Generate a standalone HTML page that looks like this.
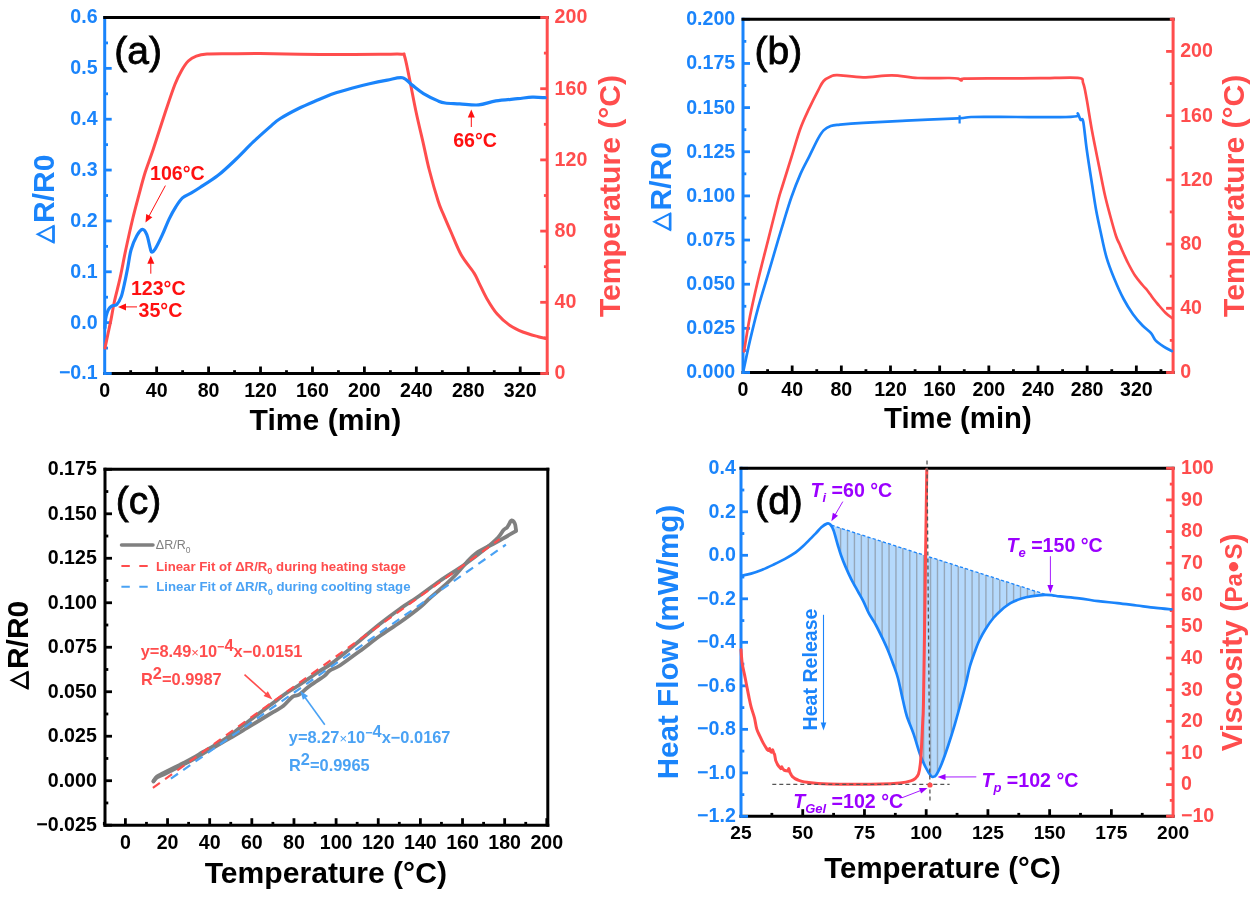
<!DOCTYPE html>
<html><head><meta charset="utf-8"><style>
html,body{margin:0;padding:0;background:#fff;}
svg{display:block;will-change:transform;}
text{font-family:"Liberation Sans", sans-serif;}
</style></head><body>
<svg width="1252" height="897" viewBox="0 0 1252 897">
<rect width="1252" height="897" fill="#fff"/>
<line x1="103.2" y1="373.5" x2="548.7" y2="373.5" stroke="#000" stroke-width="3" />
<line x1="156.64" y1="373.5" x2="156.64" y2="366.5" stroke="#000" stroke-width="2.8" />
<line x1="208.58" y1="373.5" x2="208.58" y2="366.5" stroke="#000" stroke-width="2.8" />
<line x1="260.52" y1="373.5" x2="260.52" y2="366.5" stroke="#000" stroke-width="2.8" />
<line x1="312.46" y1="373.5" x2="312.46" y2="366.5" stroke="#000" stroke-width="2.8" />
<line x1="364.4" y1="373.5" x2="364.4" y2="366.5" stroke="#000" stroke-width="2.8" />
<line x1="416.34" y1="373.5" x2="416.34" y2="366.5" stroke="#000" stroke-width="2.8" />
<line x1="468.28" y1="373.5" x2="468.28" y2="366.5" stroke="#000" stroke-width="2.8" />
<line x1="520.22" y1="373.5" x2="520.22" y2="366.5" stroke="#000" stroke-width="2.8" />
<line x1="130.67" y1="373.5" x2="130.67" y2="370.2" stroke="#000" stroke-width="2.8" />
<line x1="182.61" y1="373.5" x2="182.61" y2="370.2" stroke="#000" stroke-width="2.8" />
<line x1="234.55" y1="373.5" x2="234.55" y2="370.2" stroke="#000" stroke-width="2.8" />
<line x1="286.49" y1="373.5" x2="286.49" y2="370.2" stroke="#000" stroke-width="2.8" />
<line x1="338.43" y1="373.5" x2="338.43" y2="370.2" stroke="#000" stroke-width="2.8" />
<line x1="390.37" y1="373.5" x2="390.37" y2="370.2" stroke="#000" stroke-width="2.8" />
<line x1="442.31" y1="373.5" x2="442.31" y2="370.2" stroke="#000" stroke-width="2.8" />
<line x1="494.25" y1="373.5" x2="494.25" y2="370.2" stroke="#000" stroke-width="2.8" />
<line x1="104.7" y1="16" x2="104.7" y2="375" stroke="#1a84fb" stroke-width="3" />
<line x1="104.7" y1="373.5" x2="111.7" y2="373.5" stroke="#1a84fb" stroke-width="2.8" />
<line x1="104.7" y1="322.64" x2="111.7" y2="322.64" stroke="#1a84fb" stroke-width="2.8" />
<line x1="104.7" y1="271.79" x2="111.7" y2="271.79" stroke="#1a84fb" stroke-width="2.8" />
<line x1="104.7" y1="220.93" x2="111.7" y2="220.93" stroke="#1a84fb" stroke-width="2.8" />
<line x1="104.7" y1="170.07" x2="111.7" y2="170.07" stroke="#1a84fb" stroke-width="2.8" />
<line x1="104.7" y1="119.21" x2="111.7" y2="119.21" stroke="#1a84fb" stroke-width="2.8" />
<line x1="104.7" y1="68.36" x2="111.7" y2="68.36" stroke="#1a84fb" stroke-width="2.8" />
<line x1="104.7" y1="17.5" x2="111.7" y2="17.5" stroke="#1a84fb" stroke-width="2.8" />
<line x1="104.7" y1="348.07" x2="108" y2="348.07" stroke="#1a84fb" stroke-width="2.8" />
<line x1="104.7" y1="297.21" x2="108" y2="297.21" stroke="#1a84fb" stroke-width="2.8" />
<line x1="104.7" y1="246.36" x2="108" y2="246.36" stroke="#1a84fb" stroke-width="2.8" />
<line x1="104.7" y1="195.5" x2="108" y2="195.5" stroke="#1a84fb" stroke-width="2.8" />
<line x1="104.7" y1="144.64" x2="108" y2="144.64" stroke="#1a84fb" stroke-width="2.8" />
<line x1="104.7" y1="93.79" x2="108" y2="93.79" stroke="#1a84fb" stroke-width="2.8" />
<line x1="104.7" y1="42.93" x2="108" y2="42.93" stroke="#1a84fb" stroke-width="2.8" />
<line x1="103.2" y1="17.5" x2="548.7" y2="17.5" stroke="#000" stroke-width="3" />
<line x1="547.2" y1="16" x2="547.2" y2="375" stroke="#ff4d4d" stroke-width="3" />
<line x1="547.2" y1="373.5" x2="540.2" y2="373.5" stroke="#ff4d4d" stroke-width="2.8" />
<line x1="547.2" y1="302.3" x2="540.2" y2="302.3" stroke="#ff4d4d" stroke-width="2.8" />
<line x1="547.2" y1="231.1" x2="540.2" y2="231.1" stroke="#ff4d4d" stroke-width="2.8" />
<line x1="547.2" y1="159.9" x2="540.2" y2="159.9" stroke="#ff4d4d" stroke-width="2.8" />
<line x1="547.2" y1="88.7" x2="540.2" y2="88.7" stroke="#ff4d4d" stroke-width="2.8" />
<line x1="547.2" y1="17.5" x2="540.2" y2="17.5" stroke="#ff4d4d" stroke-width="2.8" />
<line x1="547.2" y1="337.9" x2="543.9" y2="337.9" stroke="#ff4d4d" stroke-width="2.8" />
<line x1="547.2" y1="266.7" x2="543.9" y2="266.7" stroke="#ff4d4d" stroke-width="2.8" />
<line x1="547.2" y1="195.5" x2="543.9" y2="195.5" stroke="#ff4d4d" stroke-width="2.8" />
<line x1="547.2" y1="124.3" x2="543.9" y2="124.3" stroke="#ff4d4d" stroke-width="2.8" />
<line x1="547.2" y1="53.1" x2="543.9" y2="53.1" stroke="#ff4d4d" stroke-width="2.8" />
<text x="104.7" y="397.2" font-size="19.6" fill="#000" text-anchor="middle" font-weight="bold" font-style="normal" >0</text>
<text x="156.64" y="397.2" font-size="19.6" fill="#000" text-anchor="middle" font-weight="bold" font-style="normal" >40</text>
<text x="208.58" y="397.2" font-size="19.6" fill="#000" text-anchor="middle" font-weight="bold" font-style="normal" >80</text>
<text x="260.52" y="397.2" font-size="19.6" fill="#000" text-anchor="middle" font-weight="bold" font-style="normal" >120</text>
<text x="312.46" y="397.2" font-size="19.6" fill="#000" text-anchor="middle" font-weight="bold" font-style="normal" >160</text>
<text x="364.4" y="397.2" font-size="19.6" fill="#000" text-anchor="middle" font-weight="bold" font-style="normal" >200</text>
<text x="416.34" y="397.2" font-size="19.6" fill="#000" text-anchor="middle" font-weight="bold" font-style="normal" >240</text>
<text x="468.28" y="397.2" font-size="19.6" fill="#000" text-anchor="middle" font-weight="bold" font-style="normal" >280</text>
<text x="520.22" y="397.2" font-size="19.6" fill="#000" text-anchor="middle" font-weight="bold" font-style="normal" >320</text>
<text x="97.6" y="379.4" font-size="19.6" fill="#1a84fb" text-anchor="end" font-weight="bold" font-style="normal" >−0.1</text>
<text x="97.6" y="328.54" font-size="19.6" fill="#1a84fb" text-anchor="end" font-weight="bold" font-style="normal" >0.0</text>
<text x="97.6" y="277.69" font-size="19.6" fill="#1a84fb" text-anchor="end" font-weight="bold" font-style="normal" >0.1</text>
<text x="97.6" y="226.83" font-size="19.6" fill="#1a84fb" text-anchor="end" font-weight="bold" font-style="normal" >0.2</text>
<text x="97.6" y="175.97" font-size="19.6" fill="#1a84fb" text-anchor="end" font-weight="bold" font-style="normal" >0.3</text>
<text x="97.6" y="125.11" font-size="19.6" fill="#1a84fb" text-anchor="end" font-weight="bold" font-style="normal" >0.4</text>
<text x="97.6" y="74.26" font-size="19.6" fill="#1a84fb" text-anchor="end" font-weight="bold" font-style="normal" >0.5</text>
<text x="97.6" y="23.4" font-size="19.6" fill="#1a84fb" text-anchor="end" font-weight="bold" font-style="normal" >0.6</text>
<text x="554.6" y="379.4" font-size="19.6" fill="#ff4d4d" text-anchor="start" font-weight="bold" font-style="normal" >0</text>
<text x="554.6" y="308.2" font-size="19.6" fill="#ff4d4d" text-anchor="start" font-weight="bold" font-style="normal" >40</text>
<text x="554.6" y="237" font-size="19.6" fill="#ff4d4d" text-anchor="start" font-weight="bold" font-style="normal" >80</text>
<text x="554.6" y="165.8" font-size="19.6" fill="#ff4d4d" text-anchor="start" font-weight="bold" font-style="normal" >120</text>
<text x="554.6" y="94.6" font-size="19.6" fill="#ff4d4d" text-anchor="start" font-weight="bold" font-style="normal" >160</text>
<text x="554.6" y="23.4" font-size="19.6" fill="#ff4d4d" text-anchor="start" font-weight="bold" font-style="normal" >200</text>
<text x="325.4" y="430.2" font-size="30.1" fill="#000" text-anchor="middle" font-weight="bold" font-style="normal" >Time (min)</text>
<path d="M53.5,242.2 L53.5,226.1 L37.8,234.15 Z" fill="none" stroke="#1a84fb" stroke-width="2.1" stroke-linejoin="miter"/>
<path d="M53.5,242.7 L53.5,225.6" stroke="#1a84fb" stroke-width="2.6"/>
<text x="54.4" y="223" font-size="30" fill="#1a84fb" font-weight="bold" transform="rotate(-90 54.4 223)">R/R0</text>
<text x="619.7" y="196" font-size="30.1" fill="#ff4d4d" text-anchor="middle" font-weight="bold" font-style="normal" transform="rotate(-90 619.7 196)" >Temperature (°C)</text>
<text x="114.3" y="63.8" font-size="39" fill="#000" text-anchor="start" font-weight="normal" font-style="normal" stroke="#000" stroke-width="0.8">(a)</text>
<path d="M105,348.1 C105.47,345.87 106.78,339.53 107.8,334.7 C108.82,329.87 109.98,324.72 111.1,319.1 C112.22,313.48 113,307.87 114.5,301 C116,294.13 118.25,286.32 120.1,277.9 C121.95,269.48 123.47,260.48 125.6,250.5 C127.73,240.52 130.67,227.32 132.9,218 C135.13,208.68 136.95,202.22 139,194.6 C141.05,186.98 142.87,179.73 145.2,172.3 C147.53,164.87 149.6,160.17 153,150 C156.4,139.83 161.95,122.22 165.6,111.3 C169.25,100.38 172.23,91.3 174.9,84.5 C177.57,77.7 179.37,74.42 181.6,70.5 C183.83,66.58 185.85,63.4 188.3,61 C190.75,58.6 193.18,57.25 196.3,56.1 C199.42,54.95 201.38,54.48 207,54.1 C212.62,53.72 221.17,53.88 230,53.8 C238.83,53.72 248.33,53.52 260,53.6 C271.67,53.68 286.67,54.17 300,54.3 C313.33,54.43 326.67,54.4 340,54.4 C353.33,54.4 369.75,54.33 380,54.3 C390.25,54.27 397.42,53.92 401.5,54.2 C405.58,54.48 403.25,52.33 404.5,56 C405.75,59.67 407.05,66.78 409,76.2 C410.95,85.62 413.78,101.15 416.2,112.5 C418.62,123.85 421.32,134.72 423.5,144.3 C425.68,153.88 426.85,160.5 429.3,170 C431.75,179.5 435.87,193.95 438.2,201.3 C440.53,208.65 441.17,208.98 443.3,214.1 C445.43,219.22 448,225.17 451,232 C454,238.83 457.45,248.25 461.3,255.1 C465.15,261.95 471.12,268.4 474.1,273.1 C477.08,277.8 477.07,279.03 479.2,283.3 C481.33,287.57 483.9,293.57 486.9,298.7 C489.9,303.83 493.35,309.62 497.2,314.1 C501.05,318.58 505.73,322.62 510,325.6 C514.27,328.58 518.1,330.15 522.8,332 C527.5,333.85 534.33,335.62 538.2,336.7 C542.07,337.78 544.7,338.2 546,338.5" fill="none" stroke="#ff4d4d" stroke-width="3" stroke-linejoin="round" stroke-linecap="round" />
<path d="M105,328 C105.1,326.52 105.23,321.7 105.6,319.1 C105.97,316.5 106.55,314.25 107.2,312.4 C107.85,310.55 108.65,309.12 109.5,308 C110.35,306.88 111.1,306.27 112.3,305.7 C113.5,305.13 115.22,306.08 116.7,304.6 C118.18,303.12 119.9,300.33 121.2,296.8 C122.5,293.27 123.38,288.42 124.5,283.4 C125.62,278.38 126.82,272.27 127.9,266.7 C128.98,261.13 129.52,255.15 131,250 C132.48,244.85 134.9,239.23 136.8,235.8 C138.7,232.37 140.73,229.58 142.4,229.4 C144.07,229.22 145.5,231.58 146.8,234.7 C148.1,237.82 149.37,245.18 150.2,248.1 C151.03,251.02 150.88,252.2 151.8,252.2 C152.72,252.2 153.93,251.02 155.7,248.1 C157.47,245.18 160.17,239.53 162.4,234.7 C164.63,229.87 166.87,223.73 169.1,219.1 C171.33,214.47 173.57,210.43 175.8,206.9 C178.03,203.37 179.9,200.23 182.5,197.9 C185.1,195.57 188.48,194.63 191.4,192.9 C194.32,191.17 195.6,190.38 200,187.5 C204.4,184.62 211.85,180.27 217.8,175.6 C223.75,170.93 229.75,165.15 235.7,159.5 C241.65,153.85 247.55,147.35 253.5,141.7 C259.45,136.05 266.93,129.47 271.4,125.6 C275.87,121.73 275.85,121.32 280.3,118.5 C284.75,115.68 292.15,111.67 298.1,108.7 C304.05,105.73 310.05,103.23 316,100.7 C321.95,98.17 327.85,95.58 333.8,93.5 C339.75,91.42 345.75,89.83 351.7,88.2 C357.65,86.57 363.57,85.05 369.5,83.7 C375.43,82.35 381.8,81.1 387.3,80.1 C392.8,79.1 398.4,76.9 402.5,77.7 C406.6,78.5 408.4,82.25 411.9,84.9 C415.4,87.55 419.15,90.93 423.5,93.6 C427.85,96.27 434.38,99.33 438,100.9 C441.62,102.47 441.58,102.52 445.2,103 C448.82,103.48 454.13,103.48 459.7,103.8 C465.27,104.12 472.57,105.38 478.6,104.9 C484.63,104.42 489.38,101.93 495.9,100.9 C502.42,99.87 511.65,99.32 517.7,98.7 C523.75,98.08 527.62,97.37 532.2,97.2 C536.78,97.03 543.03,97.62 545.2,97.7" fill="none" stroke="#1a84fb" stroke-width="3.2" stroke-linejoin="round" stroke-linecap="round" />
<text x="150" y="179.9" font-size="19.6" fill="#ff1010" text-anchor="start" font-weight="bold" font-style="normal" >106°C</text>
<line x1="165.4" y1="185.6" x2="148.82" y2="216.44" stroke="#ff1010" stroke-width="1" />
<path d="M145.5,222.6 L146.21,213.9 L152.37,217.21 Z" fill="#ff1010"/>
<text x="130.9" y="294.6" font-size="19.6" fill="#ff1010" text-anchor="start" font-weight="bold" font-style="normal" >123°C</text>
<line x1="150.8" y1="273.7" x2="150.8" y2="262.7" stroke="#ff1010" stroke-width="1" />
<path d="M150.8,255.7 L154.3,263.7 L147.3,263.7 Z" fill="#ff1010"/>
<text x="138.5" y="317.3" font-size="19.6" fill="#ff1010" text-anchor="start" font-weight="bold" font-style="normal" >35°C</text>
<line x1="137" y1="306.9" x2="125" y2="306.9" stroke="#ff1010" stroke-width="1" />
<path d="M118,306.9 L126,303.4 L126,310.4 Z" fill="#ff1010"/>
<text x="453.2" y="146.5" font-size="19.6" fill="#ff1010" text-anchor="start" font-weight="bold" font-style="normal" >66°C</text>
<line x1="471.3" y1="127" x2="471.3" y2="116.6" stroke="#ff1010" stroke-width="1" />
<path d="M471.3,109.6 L474.8,117.6 L467.8,117.6 Z" fill="#ff1010"/>
<line x1="741.5" y1="372.5" x2="1174.6" y2="372.5" stroke="#000" stroke-width="3" />
<line x1="792.17" y1="372.5" x2="792.17" y2="365.5" stroke="#000" stroke-width="2.8" />
<line x1="841.34" y1="372.5" x2="841.34" y2="365.5" stroke="#000" stroke-width="2.8" />
<line x1="890.5" y1="372.5" x2="890.5" y2="365.5" stroke="#000" stroke-width="2.8" />
<line x1="939.67" y1="372.5" x2="939.67" y2="365.5" stroke="#000" stroke-width="2.8" />
<line x1="988.84" y1="372.5" x2="988.84" y2="365.5" stroke="#000" stroke-width="2.8" />
<line x1="1038.01" y1="372.5" x2="1038.01" y2="365.5" stroke="#000" stroke-width="2.8" />
<line x1="1087.18" y1="372.5" x2="1087.18" y2="365.5" stroke="#000" stroke-width="2.8" />
<line x1="1136.34" y1="372.5" x2="1136.34" y2="365.5" stroke="#000" stroke-width="2.8" />
<line x1="767.58" y1="372.5" x2="767.58" y2="369.2" stroke="#000" stroke-width="2.8" />
<line x1="816.75" y1="372.5" x2="816.75" y2="369.2" stroke="#000" stroke-width="2.8" />
<line x1="865.92" y1="372.5" x2="865.92" y2="369.2" stroke="#000" stroke-width="2.8" />
<line x1="915.09" y1="372.5" x2="915.09" y2="369.2" stroke="#000" stroke-width="2.8" />
<line x1="964.26" y1="372.5" x2="964.26" y2="369.2" stroke="#000" stroke-width="2.8" />
<line x1="1013.42" y1="372.5" x2="1013.42" y2="369.2" stroke="#000" stroke-width="2.8" />
<line x1="1062.59" y1="372.5" x2="1062.59" y2="369.2" stroke="#000" stroke-width="2.8" />
<line x1="1111.76" y1="372.5" x2="1111.76" y2="369.2" stroke="#000" stroke-width="2.8" />
<line x1="1160.93" y1="372.5" x2="1160.93" y2="369.2" stroke="#000" stroke-width="2.8" />
<line x1="743" y1="17.8" x2="743" y2="374" stroke="#1a84fb" stroke-width="3" />
<line x1="743" y1="372.5" x2="750" y2="372.5" stroke="#1a84fb" stroke-width="2.8" />
<line x1="743" y1="328.35" x2="750" y2="328.35" stroke="#1a84fb" stroke-width="2.8" />
<line x1="743" y1="284.2" x2="750" y2="284.2" stroke="#1a84fb" stroke-width="2.8" />
<line x1="743" y1="240.05" x2="750" y2="240.05" stroke="#1a84fb" stroke-width="2.8" />
<line x1="743" y1="195.9" x2="750" y2="195.9" stroke="#1a84fb" stroke-width="2.8" />
<line x1="743" y1="151.75" x2="750" y2="151.75" stroke="#1a84fb" stroke-width="2.8" />
<line x1="743" y1="107.6" x2="750" y2="107.6" stroke="#1a84fb" stroke-width="2.8" />
<line x1="743" y1="63.45" x2="750" y2="63.45" stroke="#1a84fb" stroke-width="2.8" />
<line x1="743" y1="19.3" x2="750" y2="19.3" stroke="#1a84fb" stroke-width="2.8" />
<line x1="743" y1="350.43" x2="746.3" y2="350.43" stroke="#1a84fb" stroke-width="2.8" />
<line x1="743" y1="306.27" x2="746.3" y2="306.27" stroke="#1a84fb" stroke-width="2.8" />
<line x1="743" y1="262.12" x2="746.3" y2="262.12" stroke="#1a84fb" stroke-width="2.8" />
<line x1="743" y1="217.98" x2="746.3" y2="217.98" stroke="#1a84fb" stroke-width="2.8" />
<line x1="743" y1="173.83" x2="746.3" y2="173.83" stroke="#1a84fb" stroke-width="2.8" />
<line x1="743" y1="129.68" x2="746.3" y2="129.68" stroke="#1a84fb" stroke-width="2.8" />
<line x1="743" y1="85.53" x2="746.3" y2="85.53" stroke="#1a84fb" stroke-width="2.8" />
<line x1="743" y1="41.38" x2="746.3" y2="41.38" stroke="#1a84fb" stroke-width="2.8" />
<line x1="741.5" y1="19.3" x2="1174.6" y2="19.3" stroke="#000" stroke-width="3" />
<line x1="1173.1" y1="17.8" x2="1173.1" y2="374" stroke="#ff4d4d" stroke-width="3" />
<line x1="1173.1" y1="372.5" x2="1166.1" y2="372.5" stroke="#ff4d4d" stroke-width="2.8" />
<line x1="1173.1" y1="308.28" x2="1166.1" y2="308.28" stroke="#ff4d4d" stroke-width="2.8" />
<line x1="1173.1" y1="244.06" x2="1166.1" y2="244.06" stroke="#ff4d4d" stroke-width="2.8" />
<line x1="1173.1" y1="179.85" x2="1166.1" y2="179.85" stroke="#ff4d4d" stroke-width="2.8" />
<line x1="1173.1" y1="115.63" x2="1166.1" y2="115.63" stroke="#ff4d4d" stroke-width="2.8" />
<line x1="1173.1" y1="51.41" x2="1166.1" y2="51.41" stroke="#ff4d4d" stroke-width="2.8" />
<line x1="1173.1" y1="340.39" x2="1169.8" y2="340.39" stroke="#ff4d4d" stroke-width="2.8" />
<line x1="1173.1" y1="276.17" x2="1169.8" y2="276.17" stroke="#ff4d4d" stroke-width="2.8" />
<line x1="1173.1" y1="211.95" x2="1169.8" y2="211.95" stroke="#ff4d4d" stroke-width="2.8" />
<line x1="1173.1" y1="147.74" x2="1169.8" y2="147.74" stroke="#ff4d4d" stroke-width="2.8" />
<line x1="1173.1" y1="83.52" x2="1169.8" y2="83.52" stroke="#ff4d4d" stroke-width="2.8" />
<line x1="1173.1" y1="19.3" x2="1169.8" y2="19.3" stroke="#ff4d4d" stroke-width="2.8" />
<text x="743" y="396.2" font-size="19.6" fill="#000" text-anchor="middle" font-weight="bold" font-style="normal" >0</text>
<text x="792.17" y="396.2" font-size="19.6" fill="#000" text-anchor="middle" font-weight="bold" font-style="normal" >40</text>
<text x="841.34" y="396.2" font-size="19.6" fill="#000" text-anchor="middle" font-weight="bold" font-style="normal" >80</text>
<text x="890.5" y="396.2" font-size="19.6" fill="#000" text-anchor="middle" font-weight="bold" font-style="normal" >120</text>
<text x="939.67" y="396.2" font-size="19.6" fill="#000" text-anchor="middle" font-weight="bold" font-style="normal" >160</text>
<text x="988.84" y="396.2" font-size="19.6" fill="#000" text-anchor="middle" font-weight="bold" font-style="normal" >200</text>
<text x="1038.01" y="396.2" font-size="19.6" fill="#000" text-anchor="middle" font-weight="bold" font-style="normal" >240</text>
<text x="1087.18" y="396.2" font-size="19.6" fill="#000" text-anchor="middle" font-weight="bold" font-style="normal" >280</text>
<text x="1136.34" y="396.2" font-size="19.6" fill="#000" text-anchor="middle" font-weight="bold" font-style="normal" >320</text>
<text x="735.2" y="378.4" font-size="19.6" fill="#1a84fb" text-anchor="end" font-weight="bold" font-style="normal" >0.000</text>
<text x="735.2" y="334.25" font-size="19.6" fill="#1a84fb" text-anchor="end" font-weight="bold" font-style="normal" >0.025</text>
<text x="735.2" y="290.1" font-size="19.6" fill="#1a84fb" text-anchor="end" font-weight="bold" font-style="normal" >0.050</text>
<text x="735.2" y="245.95" font-size="19.6" fill="#1a84fb" text-anchor="end" font-weight="bold" font-style="normal" >0.075</text>
<text x="735.2" y="201.8" font-size="19.6" fill="#1a84fb" text-anchor="end" font-weight="bold" font-style="normal" >0.100</text>
<text x="735.2" y="157.65" font-size="19.6" fill="#1a84fb" text-anchor="end" font-weight="bold" font-style="normal" >0.125</text>
<text x="735.2" y="113.5" font-size="19.6" fill="#1a84fb" text-anchor="end" font-weight="bold" font-style="normal" >0.150</text>
<text x="735.2" y="69.35" font-size="19.6" fill="#1a84fb" text-anchor="end" font-weight="bold" font-style="normal" >0.175</text>
<text x="735.2" y="25.2" font-size="19.6" fill="#1a84fb" text-anchor="end" font-weight="bold" font-style="normal" >0.200</text>
<text x="1180.2" y="378.4" font-size="19.6" fill="#ff4d4d" text-anchor="start" font-weight="bold" font-style="normal" >0</text>
<text x="1180.2" y="314.18" font-size="19.6" fill="#ff4d4d" text-anchor="start" font-weight="bold" font-style="normal" >40</text>
<text x="1180.2" y="249.96" font-size="19.6" fill="#ff4d4d" text-anchor="start" font-weight="bold" font-style="normal" >80</text>
<text x="1180.2" y="185.75" font-size="19.6" fill="#ff4d4d" text-anchor="start" font-weight="bold" font-style="normal" >120</text>
<text x="1180.2" y="121.53" font-size="19.6" fill="#ff4d4d" text-anchor="start" font-weight="bold" font-style="normal" >160</text>
<text x="1180.2" y="57.31" font-size="19.6" fill="#ff4d4d" text-anchor="start" font-weight="bold" font-style="normal" >200</text>
<text x="957.9" y="428" font-size="29.3" fill="#000" text-anchor="middle" font-weight="bold" font-style="normal" >Time (min)</text>
<path d="M670.1,229.7 L670.1,213.6 L654.4,221.65 Z" fill="none" stroke="#1a84fb" stroke-width="2.1" stroke-linejoin="miter"/>
<path d="M670.1,230.2 L670.1,213.1" stroke="#1a84fb" stroke-width="2.6"/>
<text x="671" y="210.5" font-size="30" fill="#1a84fb" font-weight="bold" transform="rotate(-90 671 210.5)">R/R0</text>
<text x="1244.2" y="195.8" font-size="30.1" fill="#ff4d4d" text-anchor="middle" font-weight="bold" font-style="normal" transform="rotate(-90 1244.2 195.8)" >Temperature (°C)</text>
<text x="754.6" y="63.5" font-size="39" fill="#000" text-anchor="start" font-weight="normal" font-style="normal" stroke="#000" stroke-width="0.8">(b)</text>
<path d="M744,351.4 C745,345.55 747.67,328.17 750,316.3 C752.33,304.43 754.98,292.9 758,280.2 C761.02,267.5 764.75,253.38 768.1,240.1 C771.45,226.82 775.68,209.6 778.1,200.5 C780.52,191.4 780.37,192.75 782.6,185.5 C784.83,178.25 788.53,166.5 791.5,157 C794.47,147.5 797.43,136.65 800.4,128.5 C803.37,120.35 806.33,114.47 809.3,108.1 C812.27,101.73 815.82,94.82 818.2,90.3 C820.58,85.78 821.52,83.3 823.6,81 C825.68,78.7 828.42,77.48 830.7,76.5 C832.98,75.52 831.9,74.97 837.3,75.1 C842.7,75.23 854,77.27 863.1,77.3 C872.2,77.33 882.78,75.18 891.9,75.3 C901.02,75.42 908.22,77.55 917.8,78 C927.38,78.45 942.7,77.9 949.4,78 C956.1,78.1 955.97,78.18 958,78.6 C960.03,79.02 960.6,80.48 961.6,80.5 C962.6,80.52 957.6,79.05 964,78.7 C970.4,78.35 987.33,78.48 1000,78.4 C1012.67,78.32 1027.03,78.3 1040,78.2 C1052.97,78.1 1070.6,76.97 1077.8,77.8 C1085,78.63 1081.72,79.63 1083.2,83.2 C1084.68,86.77 1085.22,91.18 1086.7,99.2 C1088.18,107.22 1090.02,120 1092.1,131.3 C1094.18,142.6 1097.12,156.6 1099.2,167 C1101.28,177.4 1102.8,185.7 1104.6,193.7 C1106.4,201.7 1108.1,207.95 1110,215 C1111.9,222.05 1114.42,231.17 1116,236 C1117.58,240.83 1118.5,241.67 1119.5,244 C1120.5,246.33 1120.58,246.83 1122,250 C1123.42,253.17 1125.83,258.75 1128,263 C1130.17,267.25 1132.58,271.83 1135,275.5 C1137.42,279.17 1140.5,282.58 1142.5,285 C1144.5,287.42 1145.75,288.5 1147,290 C1148.25,291.5 1148.83,292.42 1150,294 C1151.17,295.58 1152.72,297.83 1154,299.5 C1155.28,301.17 1155.83,301.83 1157.7,304 C1159.57,306.17 1162.83,310.17 1165.2,312.5 C1167.57,314.83 1170.78,317.08 1171.9,318" fill="none" stroke="#ff4d4d" stroke-width="2.7" stroke-linejoin="round" stroke-linecap="round" />
<path d="M743.5,370.4 C744.58,365.4 747.58,350.75 750,340.4 C752.42,330.05 754.98,319.33 758,308.3 C761.02,297.27 764.75,285.57 768.1,274.2 C771.45,262.83 775.47,248.97 778.1,240.1 C780.73,231.23 781.7,228.1 783.9,221 C786.1,213.9 788.55,205.32 791.3,197.5 C794.05,189.68 797.4,180.97 800.4,174.1 C803.4,167.23 806.33,162.25 809.3,156.3 C812.27,150.35 815.82,142.72 818.2,138.4 C820.58,134.08 821.52,132.47 823.6,130.4 C825.68,128.33 827.97,126.97 830.7,126 C833.43,125.03 834.6,125.13 840,124.6 C845.4,124.07 852.05,123.47 863.1,122.8 C874.15,122.13 890.48,121.33 906.3,120.6 C922.12,119.87 947.22,119 958,118.4 C968.78,117.8 964,117.25 971,117 C978,116.75 985.17,116.88 1000,116.9 C1014.83,116.92 1047.18,117.22 1060,117.1 C1072.82,116.98 1073.93,116.8 1076.9,116.2 C1079.87,115.6 1077.2,112.92 1077.8,113.5 C1078.4,114.08 1079.6,118.37 1080.5,119.7 C1081.4,121.03 1082.17,116.58 1083.2,121.5 C1084.23,126.42 1085.22,138.65 1086.7,149.2 C1088.18,159.75 1090.53,174.67 1092.1,184.8 C1093.67,194.93 1094.65,202.02 1096.1,210 C1097.55,217.98 1099.07,224.82 1100.8,232.7 C1102.53,240.58 1104.28,249.72 1106.5,257.3 C1108.72,264.88 1111.25,271.25 1114.1,278.2 C1116.95,285.15 1120.45,293 1123.6,299 C1126.75,305 1129.85,309.78 1133,314.2 C1136.15,318.62 1139.5,322.35 1142.5,325.5 C1145.5,328.65 1148.78,330.57 1151,333.1 C1153.22,335.63 1153.75,338.48 1155.8,340.7 C1157.85,342.92 1160.62,344.67 1163.3,346.4 C1165.98,348.13 1170.47,350.32 1171.9,351.1" fill="none" stroke="#1a84fb" stroke-width="2.7" stroke-linejoin="round" stroke-linecap="round" />
<line x1="959.6" y1="115.3" x2="959.6" y2="123.5" stroke="#1a84fb" stroke-width="2.2" />
<line x1="103.5" y1="825.2" x2="549.3" y2="825.2" stroke="#000" stroke-width="3" />
<line x1="125.4" y1="825.2" x2="125.4" y2="818.2" stroke="#000" stroke-width="2.8" />
<line x1="167.54" y1="825.2" x2="167.54" y2="818.2" stroke="#000" stroke-width="2.8" />
<line x1="209.68" y1="825.2" x2="209.68" y2="818.2" stroke="#000" stroke-width="2.8" />
<line x1="251.82" y1="825.2" x2="251.82" y2="818.2" stroke="#000" stroke-width="2.8" />
<line x1="293.96" y1="825.2" x2="293.96" y2="818.2" stroke="#000" stroke-width="2.8" />
<line x1="336.1" y1="825.2" x2="336.1" y2="818.2" stroke="#000" stroke-width="2.8" />
<line x1="378.24" y1="825.2" x2="378.24" y2="818.2" stroke="#000" stroke-width="2.8" />
<line x1="420.38" y1="825.2" x2="420.38" y2="818.2" stroke="#000" stroke-width="2.8" />
<line x1="462.52" y1="825.2" x2="462.52" y2="818.2" stroke="#000" stroke-width="2.8" />
<line x1="504.66" y1="825.2" x2="504.66" y2="818.2" stroke="#000" stroke-width="2.8" />
<line x1="546.8" y1="825.2" x2="546.8" y2="818.2" stroke="#000" stroke-width="2.8" />
<line x1="104.33" y1="825.2" x2="104.33" y2="821.9" stroke="#000" stroke-width="2.8" />
<line x1="146.47" y1="825.2" x2="146.47" y2="821.9" stroke="#000" stroke-width="2.8" />
<line x1="188.61" y1="825.2" x2="188.61" y2="821.9" stroke="#000" stroke-width="2.8" />
<line x1="230.75" y1="825.2" x2="230.75" y2="821.9" stroke="#000" stroke-width="2.8" />
<line x1="272.89" y1="825.2" x2="272.89" y2="821.9" stroke="#000" stroke-width="2.8" />
<line x1="315.03" y1="825.2" x2="315.03" y2="821.9" stroke="#000" stroke-width="2.8" />
<line x1="357.17" y1="825.2" x2="357.17" y2="821.9" stroke="#000" stroke-width="2.8" />
<line x1="399.31" y1="825.2" x2="399.31" y2="821.9" stroke="#000" stroke-width="2.8" />
<line x1="441.45" y1="825.2" x2="441.45" y2="821.9" stroke="#000" stroke-width="2.8" />
<line x1="483.59" y1="825.2" x2="483.59" y2="821.9" stroke="#000" stroke-width="2.8" />
<line x1="525.73" y1="825.2" x2="525.73" y2="821.9" stroke="#000" stroke-width="2.8" />
<line x1="105" y1="467.8" x2="105" y2="826.7" stroke="#000" stroke-width="3" />
<line x1="105" y1="825.2" x2="112" y2="825.2" stroke="#000" stroke-width="2.8" />
<line x1="105" y1="780.71" x2="112" y2="780.71" stroke="#000" stroke-width="2.8" />
<line x1="105" y1="736.23" x2="112" y2="736.23" stroke="#000" stroke-width="2.8" />
<line x1="105" y1="691.74" x2="112" y2="691.74" stroke="#000" stroke-width="2.8" />
<line x1="105" y1="647.25" x2="112" y2="647.25" stroke="#000" stroke-width="2.8" />
<line x1="105" y1="602.76" x2="112" y2="602.76" stroke="#000" stroke-width="2.8" />
<line x1="105" y1="558.27" x2="112" y2="558.27" stroke="#000" stroke-width="2.8" />
<line x1="105" y1="513.79" x2="112" y2="513.79" stroke="#000" stroke-width="2.8" />
<line x1="105" y1="469.3" x2="112" y2="469.3" stroke="#000" stroke-width="2.8" />
<line x1="105" y1="802.96" x2="108.3" y2="802.96" stroke="#000" stroke-width="2.8" />
<line x1="105" y1="758.47" x2="108.3" y2="758.47" stroke="#000" stroke-width="2.8" />
<line x1="105" y1="713.98" x2="108.3" y2="713.98" stroke="#000" stroke-width="2.8" />
<line x1="105" y1="669.49" x2="108.3" y2="669.49" stroke="#000" stroke-width="2.8" />
<line x1="105" y1="625.01" x2="108.3" y2="625.01" stroke="#000" stroke-width="2.8" />
<line x1="105" y1="580.52" x2="108.3" y2="580.52" stroke="#000" stroke-width="2.8" />
<line x1="105" y1="536.03" x2="108.3" y2="536.03" stroke="#000" stroke-width="2.8" />
<line x1="105" y1="491.54" x2="108.3" y2="491.54" stroke="#000" stroke-width="2.8" />
<line x1="103.5" y1="469.3" x2="549.3" y2="469.3" stroke="#000" stroke-width="3" />
<line x1="547.8" y1="467.8" x2="547.8" y2="826.7" stroke="#000" stroke-width="3" />
<text x="125.4" y="849.2" font-size="19.6" fill="#000" text-anchor="middle" font-weight="bold" font-style="normal" >0</text>
<text x="167.54" y="849.2" font-size="19.6" fill="#000" text-anchor="middle" font-weight="bold" font-style="normal" >20</text>
<text x="209.68" y="849.2" font-size="19.6" fill="#000" text-anchor="middle" font-weight="bold" font-style="normal" >40</text>
<text x="251.82" y="849.2" font-size="19.6" fill="#000" text-anchor="middle" font-weight="bold" font-style="normal" >60</text>
<text x="293.96" y="849.2" font-size="19.6" fill="#000" text-anchor="middle" font-weight="bold" font-style="normal" >80</text>
<text x="336.1" y="849.2" font-size="19.6" fill="#000" text-anchor="middle" font-weight="bold" font-style="normal" >100</text>
<text x="378.24" y="849.2" font-size="19.6" fill="#000" text-anchor="middle" font-weight="bold" font-style="normal" >120</text>
<text x="420.38" y="849.2" font-size="19.6" fill="#000" text-anchor="middle" font-weight="bold" font-style="normal" >140</text>
<text x="462.52" y="849.2" font-size="19.6" fill="#000" text-anchor="middle" font-weight="bold" font-style="normal" >160</text>
<text x="504.66" y="849.2" font-size="19.6" fill="#000" text-anchor="middle" font-weight="bold" font-style="normal" >180</text>
<text x="546.8" y="849.2" font-size="19.6" fill="#000" text-anchor="middle" font-weight="bold" font-style="normal" >200</text>
<text x="96.8" y="831.1" font-size="19.6" fill="#000" text-anchor="end" font-weight="bold" font-style="normal" >−0.025</text>
<text x="96.8" y="786.61" font-size="19.6" fill="#000" text-anchor="end" font-weight="bold" font-style="normal" >0.000</text>
<text x="96.8" y="742.12" font-size="19.6" fill="#000" text-anchor="end" font-weight="bold" font-style="normal" >0.025</text>
<text x="96.8" y="697.64" font-size="19.6" fill="#000" text-anchor="end" font-weight="bold" font-style="normal" >0.050</text>
<text x="96.8" y="653.15" font-size="19.6" fill="#000" text-anchor="end" font-weight="bold" font-style="normal" >0.075</text>
<text x="96.8" y="608.66" font-size="19.6" fill="#000" text-anchor="end" font-weight="bold" font-style="normal" >0.100</text>
<text x="96.8" y="564.17" font-size="19.6" fill="#000" text-anchor="end" font-weight="bold" font-style="normal" >0.125</text>
<text x="96.8" y="519.69" font-size="19.6" fill="#000" text-anchor="end" font-weight="bold" font-style="normal" >0.150</text>
<text x="96.8" y="475.2" font-size="19.6" fill="#000" text-anchor="end" font-weight="bold" font-style="normal" >0.175</text>
<text x="325.8" y="883" font-size="30.1" fill="#000" text-anchor="middle" font-weight="bold" font-style="normal" >Temperature (°C)</text>
<path d="M27.5,688.3 L27.5,672.2 L11.8,680.25 Z" fill="none" stroke="#000" stroke-width="2.1" stroke-linejoin="miter"/>
<path d="M27.5,688.8 L27.5,671.7" stroke="#000" stroke-width="2.6"/>
<text x="28.4" y="669.1" font-size="30" fill="#000" font-weight="bold" transform="rotate(-90 28.4 669.1)">R/R0</text>
<text x="115.8" y="513.8" font-size="39" fill="#000" text-anchor="start" font-weight="normal" font-style="normal" stroke="#000" stroke-width="0.8">(c)</text>
<line x1="121.5" y1="545" x2="153" y2="545" stroke="#808080" stroke-width="3.5" stroke-linecap="round"/>
<text x="155.8" y="549.2" font-size="12.5" fill="#808080" font-weight="normal">ΔR/R<tspan font-size="8.5" dy="3.6">0</tspan></text>
<line x1="121.4" y1="566" x2="148.3" y2="566" stroke="#ff4d4d" stroke-width="2" stroke-dasharray="8.4,9.5"/>
<text x="156" y="570.7" font-size="13.2" fill="#ff4d4d" font-weight="bold">Linear Fit of ΔR/R<tspan font-size="9.2" dy="3.6">0</tspan><tspan dy="-3.6"> during heating stage</tspan></text>
<line x1="121.4" y1="586.8" x2="148.3" y2="586.8" stroke="#4aa2f4" stroke-width="2" stroke-dasharray="8.4,9.5"/>
<text x="156.3" y="591.3" font-size="13.2" fill="#4aa2f4" font-weight="bold">Linear Fit of ΔR/R<tspan font-size="9.2" dy="3.6">0</tspan><tspan dy="-3.6"> during coolting stage</tspan></text>
<path d="M153.5,781 C154.08,780.25 155.42,777.78 157,776.5 C158.58,775.22 160.33,774.67 163,773.3 C165.67,771.93 169.67,769.97 173,768.3 C176.33,766.63 179.67,765.02 183,763.3 C186.33,761.58 189.67,759.88 193,758 C196.33,756.12 199.67,753.95 203,752 C206.33,750.05 209.67,748.25 213,746.3 C216.33,744.35 220.17,742.1 223,740.3 C225.83,738.5 226.98,737.75 230,735.5 C233.02,733.25 237.38,729.63 241.1,726.8 C244.82,723.97 248.58,721.27 252.3,718.5 C256.02,715.73 259.68,712.97 263.4,710.2 C267.12,707.43 270.88,704.68 274.6,701.9 C278.32,699.12 281.98,696.07 285.7,693.5 C289.42,690.93 293.18,688.92 296.9,686.5 C300.62,684.08 304.28,681.53 308,679 C311.72,676.47 315.53,673.7 319.2,671.3 C322.87,668.9 325.7,667.68 330,664.6 C334.3,661.52 340.02,656.82 345,652.8 C349.98,648.78 354.1,645.3 359.9,640.5 C365.7,635.7 373.15,629.25 379.8,624 C386.45,618.75 393.13,613.75 399.8,609 C406.47,604.25 413.15,600.17 419.8,595.5 C426.45,590.83 432.23,586.17 439.7,581 C447.17,575.83 456.73,570.08 464.6,564.5 C472.47,558.92 481.32,552 486.9,547.5 C492.48,543 495.32,540.42 498.1,537.5 C500.88,534.58 502.12,531.67 503.6,530 C505.08,528.33 506.07,528.5 507,527.5 C507.93,526.5 508.47,525.17 509.2,524 C509.93,522.83 510.47,520.58 511.4,520.5 C512.33,520.42 514.03,521.92 514.8,523.5 C515.57,525.08 515.8,528.92 516,530" fill="none" stroke="#808080" stroke-width="3.8" stroke-linejoin="round" stroke-linecap="round" />
<path d="M516,531 C513.02,532.72 504.8,537.55 498.1,541.3 C491.4,545.05 481.38,549.6 475.8,553.5 C470.22,557.4 468.32,560.78 464.6,564.7 C460.88,568.62 457.22,573.2 453.5,577 C449.78,580.8 446.22,584 442.3,587.5 C438.38,591 433.75,594.67 430,598 C426.25,601.33 424.83,603.42 419.8,607.5 C414.77,611.58 406.47,617.75 399.8,622.5 C393.13,627.25 386.45,631.25 379.8,636 C373.15,640.75 366.55,646.08 359.9,651 C353.25,655.92 344.88,662.27 339.9,665.5 C334.92,668.73 332.52,668.72 330,670.4 C327.48,672.08 326.97,673.83 324.8,675.6 C322.63,677.37 319.8,679.07 317,681 C314.2,682.93 310.98,684.93 308,687.2 C305.02,689.47 301.7,692.98 299.1,694.6 C296.5,696.22 295,695.03 292.4,696.9 C289.8,698.77 286.47,703.4 283.5,705.8 C280.53,708.2 277.95,709.27 274.6,711.3 C271.25,713.33 268.05,715.2 263.4,718 C258.75,720.8 252.27,724.75 246.7,728.1 C241.13,731.45 235.62,734.82 230,738.1 C224.38,741.38 217.5,745.23 213,747.8 C208.5,750.37 206.33,751.55 203,753.5 C199.67,755.45 196.33,757.62 193,759.5 C189.67,761.38 186.33,763.08 183,764.8 C179.67,766.52 176.33,768.13 173,769.8 C169.67,771.47 165.67,773.52 163,774.8 C160.33,776.08 158.58,776.38 157,777.5 C155.42,778.62 154.08,780.83 153.5,781.5" fill="none" stroke="#808080" stroke-width="3.8" stroke-linejoin="round" stroke-linecap="round" />
<line x1="152.9" y1="787.86" x2="499.7" y2="539.2" stroke="#ff4d4d" stroke-width="2.2" stroke-dasharray="8.6,6.4"/>
<line x1="170.9" y1="778.65" x2="505.9" y2="544.67" stroke="#4aa2f4" stroke-width="2.2" stroke-dasharray="8.6,6.4"/>
<text x="140.7" y="657" font-size="16.4" fill="#ff4d4d" font-weight="bold">y=8.49<tspan font-size="13" font-weight="normal">×</tspan>10<tspan dy="-6.4" font-size="12.5">−</tspan><tspan>4</tspan><tspan dy="6.4">x−0.0151</tspan></text>
<text x="141" y="684.9" font-size="16.4" fill="#ff4d4d" font-weight="bold">R<tspan dy="-6.2">2</tspan><tspan dy="6.2">=0.9987</tspan></text>
<text x="288.8" y="743.1" font-size="16.4" fill="#4aa2f4" font-weight="bold">y=8.27<tspan font-size="13" font-weight="normal">×</tspan>10<tspan dy="-6.4" font-size="12.5">−</tspan><tspan>4</tspan><tspan dy="6.4">x−0.0167</tspan></text>
<text x="289" y="771.2" font-size="16.4" fill="#4aa2f4" font-weight="bold">R<tspan dy="-6.2">2</tspan><tspan dy="6.2">=0.9965</tspan></text>
<line x1="244.5" y1="674.6" x2="266.44" y2="694.26" stroke="#ff4d4d" stroke-width="1.6" />
<path d="M272.4,699.6 L263.56,695.98 L267.83,691.21 Z" fill="#ff4d4d"/>
<line x1="324.8" y1="724.7" x2="304.89" y2="697.18" stroke="#4aa2f4" stroke-width="1.6" />
<path d="M300.2,690.7 L308.07,696.12 L302.88,699.87 Z" fill="#4aa2f4"/>
<clipPath id="dclip"><path d="M831.5,525.2 L833.6,530.5 L837.8,545 L841.1,555.5 L845.6,566.9 L851.2,579.1 L857.9,591.4 L863.4,601.4 L868.9,613.4 L875.6,624.5 L882.3,637.9 L887.9,650.2 L893.4,664.7 L897.9,678 L902.9,700 L906.8,716 L913.4,733.4 L920.1,754.5 L925.5,767 L930.8,775.8 L933,776.8 L936.2,774.9 L941.5,764.2 L948.2,745.5 L954.9,724.1 L961.6,700 L966,683 L970,666 L974.6,652.4 L979.3,640.5 L985.6,629 L993.4,618 L1001.2,610.2 L1010.5,603.2 L1021.5,598.5 L1032.4,596.2 L1044.9,594.9 L1046,594.6 Z"/></clipPath>
<path d="M831.5,525.2 L833.6,530.5 L837.8,545 L841.1,555.5 L845.6,566.9 L851.2,579.1 L857.9,591.4 L863.4,601.4 L868.9,613.4 L875.6,624.5 L882.3,637.9 L887.9,650.2 L893.4,664.7 L897.9,678 L902.9,700 L906.8,716 L913.4,733.4 L920.1,754.5 L925.5,767 L930.8,775.8 L933,776.8 L936.2,774.9 L941.5,764.2 L948.2,745.5 L954.9,724.1 L961.6,700 L966,683 L970,666 L974.6,652.4 L979.3,640.5 L985.6,629 L993.4,618 L1001.2,610.2 L1010.5,603.2 L1021.5,598.5 L1032.4,596.2 L1044.9,594.9 L1046,594.6 Z" fill="#b5d9fc" stroke="none"/>
<path d="M840.6,520 L840.6,790 M847.52,520 L847.52,790 M854.44,520 L854.44,790 M861.36,520 L861.36,790 M868.28,520 L868.28,790 M875.2,520 L875.2,790 M882.12,520 L882.12,790 M889.04,520 L889.04,790 M895.96,520 L895.96,790 M902.88,520 L902.88,790 M909.8,520 L909.8,790 M916.72,520 L916.72,790 M923.64,520 L923.64,790 M930.56,520 L930.56,790 M937.48,520 L937.48,790 M944.4,520 L944.4,790 M951.32,520 L951.32,790 M958.24,520 L958.24,790 M965.16,520 L965.16,790 M972.08,520 L972.08,790 M979,520 L979,790 M985.92,520 L985.92,790 M992.84,520 L992.84,790 M999.76,520 L999.76,790 M1006.68,520 L1006.68,790 M1013.6,520 L1013.6,790 M1020.52,520 L1020.52,790 M1027.44,520 L1027.44,790 M1034.36,520 L1034.36,790 M1041.28,520 L1041.28,790" stroke="#95a7ba" stroke-width="1.4" fill="none" clip-path="url(#dclip)"/>
<line x1="831.5" y1="525.2" x2="1046" y2="594.6" stroke="#1a84fb" stroke-width="1.3" stroke-dasharray="3.2,2.2"/>
<line x1="739.5" y1="816.2" x2="1174.6" y2="816.2" stroke="#000" stroke-width="3" />
<line x1="802.73" y1="816.2" x2="802.73" y2="809.2" stroke="#000" stroke-width="2.8" />
<line x1="864.46" y1="816.2" x2="864.46" y2="809.2" stroke="#000" stroke-width="2.8" />
<line x1="926.19" y1="816.2" x2="926.19" y2="809.2" stroke="#000" stroke-width="2.8" />
<line x1="987.91" y1="816.2" x2="987.91" y2="809.2" stroke="#000" stroke-width="2.8" />
<line x1="1049.64" y1="816.2" x2="1049.64" y2="809.2" stroke="#000" stroke-width="2.8" />
<line x1="1111.37" y1="816.2" x2="1111.37" y2="809.2" stroke="#000" stroke-width="2.8" />
<line x1="771.86" y1="816.2" x2="771.86" y2="812.9" stroke="#000" stroke-width="2.8" />
<line x1="833.59" y1="816.2" x2="833.59" y2="812.9" stroke="#000" stroke-width="2.8" />
<line x1="895.32" y1="816.2" x2="895.32" y2="812.9" stroke="#000" stroke-width="2.8" />
<line x1="957.05" y1="816.2" x2="957.05" y2="812.9" stroke="#000" stroke-width="2.8" />
<line x1="1018.78" y1="816.2" x2="1018.78" y2="812.9" stroke="#000" stroke-width="2.8" />
<line x1="1080.51" y1="816.2" x2="1080.51" y2="812.9" stroke="#000" stroke-width="2.8" />
<line x1="1142.24" y1="816.2" x2="1142.24" y2="812.9" stroke="#000" stroke-width="2.8" />
<line x1="741" y1="466.8" x2="741" y2="817.7" stroke="#1a84fb" stroke-width="3" />
<line x1="741" y1="816.37" x2="748" y2="816.37" stroke="#1a84fb" stroke-width="2.8" />
<line x1="741" y1="772.86" x2="748" y2="772.86" stroke="#1a84fb" stroke-width="2.8" />
<line x1="741" y1="729.35" x2="748" y2="729.35" stroke="#1a84fb" stroke-width="2.8" />
<line x1="741" y1="685.84" x2="748" y2="685.84" stroke="#1a84fb" stroke-width="2.8" />
<line x1="741" y1="642.32" x2="748" y2="642.32" stroke="#1a84fb" stroke-width="2.8" />
<line x1="741" y1="598.81" x2="748" y2="598.81" stroke="#1a84fb" stroke-width="2.8" />
<line x1="741" y1="555.3" x2="748" y2="555.3" stroke="#1a84fb" stroke-width="2.8" />
<line x1="741" y1="511.79" x2="748" y2="511.79" stroke="#1a84fb" stroke-width="2.8" />
<line x1="741" y1="468.28" x2="748" y2="468.28" stroke="#1a84fb" stroke-width="2.8" />
<line x1="741" y1="794.62" x2="744.3" y2="794.62" stroke="#1a84fb" stroke-width="2.8" />
<line x1="741" y1="751.1" x2="744.3" y2="751.1" stroke="#1a84fb" stroke-width="2.8" />
<line x1="741" y1="707.59" x2="744.3" y2="707.59" stroke="#1a84fb" stroke-width="2.8" />
<line x1="741" y1="664.08" x2="744.3" y2="664.08" stroke="#1a84fb" stroke-width="2.8" />
<line x1="741" y1="620.57" x2="744.3" y2="620.57" stroke="#1a84fb" stroke-width="2.8" />
<line x1="741" y1="577.06" x2="744.3" y2="577.06" stroke="#1a84fb" stroke-width="2.8" />
<line x1="741" y1="533.54" x2="744.3" y2="533.54" stroke="#1a84fb" stroke-width="2.8" />
<line x1="741" y1="490.03" x2="744.3" y2="490.03" stroke="#1a84fb" stroke-width="2.8" />
<line x1="739.5" y1="468.3" x2="1174.6" y2="468.3" stroke="#000" stroke-width="3" />
<line x1="1173.1" y1="466.8" x2="1173.1" y2="817.7" stroke="#ff4d4d" stroke-width="3" />
<line x1="1173.1" y1="816.2" x2="1166.1" y2="816.2" stroke="#ff4d4d" stroke-width="2.8" />
<line x1="1173.1" y1="784.57" x2="1166.1" y2="784.57" stroke="#ff4d4d" stroke-width="2.8" />
<line x1="1173.1" y1="752.95" x2="1166.1" y2="752.95" stroke="#ff4d4d" stroke-width="2.8" />
<line x1="1173.1" y1="721.32" x2="1166.1" y2="721.32" stroke="#ff4d4d" stroke-width="2.8" />
<line x1="1173.1" y1="689.69" x2="1166.1" y2="689.69" stroke="#ff4d4d" stroke-width="2.8" />
<line x1="1173.1" y1="658.06" x2="1166.1" y2="658.06" stroke="#ff4d4d" stroke-width="2.8" />
<line x1="1173.1" y1="626.44" x2="1166.1" y2="626.44" stroke="#ff4d4d" stroke-width="2.8" />
<line x1="1173.1" y1="594.81" x2="1166.1" y2="594.81" stroke="#ff4d4d" stroke-width="2.8" />
<line x1="1173.1" y1="563.18" x2="1166.1" y2="563.18" stroke="#ff4d4d" stroke-width="2.8" />
<line x1="1173.1" y1="531.55" x2="1166.1" y2="531.55" stroke="#ff4d4d" stroke-width="2.8" />
<line x1="1173.1" y1="499.93" x2="1166.1" y2="499.93" stroke="#ff4d4d" stroke-width="2.8" />
<line x1="1173.1" y1="468.3" x2="1166.1" y2="468.3" stroke="#ff4d4d" stroke-width="2.8" />
<line x1="1173.1" y1="800.39" x2="1169.8" y2="800.39" stroke="#ff4d4d" stroke-width="2.8" />
<line x1="1173.1" y1="768.76" x2="1169.8" y2="768.76" stroke="#ff4d4d" stroke-width="2.8" />
<line x1="1173.1" y1="737.13" x2="1169.8" y2="737.13" stroke="#ff4d4d" stroke-width="2.8" />
<line x1="1173.1" y1="705.5" x2="1169.8" y2="705.5" stroke="#ff4d4d" stroke-width="2.8" />
<line x1="1173.1" y1="673.88" x2="1169.8" y2="673.88" stroke="#ff4d4d" stroke-width="2.8" />
<line x1="1173.1" y1="642.25" x2="1169.8" y2="642.25" stroke="#ff4d4d" stroke-width="2.8" />
<line x1="1173.1" y1="610.62" x2="1169.8" y2="610.62" stroke="#ff4d4d" stroke-width="2.8" />
<line x1="1173.1" y1="579" x2="1169.8" y2="579" stroke="#ff4d4d" stroke-width="2.8" />
<line x1="1173.1" y1="547.37" x2="1169.8" y2="547.37" stroke="#ff4d4d" stroke-width="2.8" />
<line x1="1173.1" y1="515.74" x2="1169.8" y2="515.74" stroke="#ff4d4d" stroke-width="2.8" />
<line x1="1173.1" y1="484.11" x2="1169.8" y2="484.11" stroke="#ff4d4d" stroke-width="2.8" />
<text x="741" y="839.2" font-size="19.2" fill="#000" text-anchor="middle" font-weight="bold" font-style="normal" >25</text>
<text x="802.73" y="839.2" font-size="19.2" fill="#000" text-anchor="middle" font-weight="bold" font-style="normal" >50</text>
<text x="864.46" y="839.2" font-size="19.2" fill="#000" text-anchor="middle" font-weight="bold" font-style="normal" >75</text>
<text x="926.19" y="839.2" font-size="19.2" fill="#000" text-anchor="middle" font-weight="bold" font-style="normal" >100</text>
<text x="987.91" y="839.2" font-size="19.2" fill="#000" text-anchor="middle" font-weight="bold" font-style="normal" >125</text>
<text x="1049.64" y="839.2" font-size="19.2" fill="#000" text-anchor="middle" font-weight="bold" font-style="normal" >150</text>
<text x="1111.37" y="839.2" font-size="19.2" fill="#000" text-anchor="middle" font-weight="bold" font-style="normal" >175</text>
<text x="1173.1" y="839.2" font-size="19.2" fill="#000" text-anchor="middle" font-weight="bold" font-style="normal" >200</text>
<text x="735.8" y="822.27" font-size="19.6" fill="#1a84fb" text-anchor="end" font-weight="bold" font-style="normal" >−1.2</text>
<text x="735.8" y="778.76" font-size="19.6" fill="#1a84fb" text-anchor="end" font-weight="bold" font-style="normal" >−1.0</text>
<text x="735.8" y="735.25" font-size="19.6" fill="#1a84fb" text-anchor="end" font-weight="bold" font-style="normal" >−0.8</text>
<text x="735.8" y="691.74" font-size="19.6" fill="#1a84fb" text-anchor="end" font-weight="bold" font-style="normal" >−0.6</text>
<text x="735.8" y="648.22" font-size="19.6" fill="#1a84fb" text-anchor="end" font-weight="bold" font-style="normal" >−0.4</text>
<text x="735.8" y="604.71" font-size="19.6" fill="#1a84fb" text-anchor="end" font-weight="bold" font-style="normal" >−0.2</text>
<text x="735.8" y="561.2" font-size="19.6" fill="#1a84fb" text-anchor="end" font-weight="bold" font-style="normal" >0.0</text>
<text x="735.8" y="517.69" font-size="19.6" fill="#1a84fb" text-anchor="end" font-weight="bold" font-style="normal" >0.2</text>
<text x="735.8" y="474.18" font-size="19.6" fill="#1a84fb" text-anchor="end" font-weight="bold" font-style="normal" >0.4</text>
<text x="1181" y="822.1" font-size="19.6" fill="#ff4d4d" text-anchor="start" font-weight="bold" font-style="normal" >−10</text>
<text x="1181" y="790.47" font-size="19.6" fill="#ff4d4d" text-anchor="start" font-weight="bold" font-style="normal" >0</text>
<text x="1181" y="758.85" font-size="19.6" fill="#ff4d4d" text-anchor="start" font-weight="bold" font-style="normal" >10</text>
<text x="1181" y="727.22" font-size="19.6" fill="#ff4d4d" text-anchor="start" font-weight="bold" font-style="normal" >20</text>
<text x="1181" y="695.59" font-size="19.6" fill="#ff4d4d" text-anchor="start" font-weight="bold" font-style="normal" >30</text>
<text x="1181" y="663.96" font-size="19.6" fill="#ff4d4d" text-anchor="start" font-weight="bold" font-style="normal" >40</text>
<text x="1181" y="632.34" font-size="19.6" fill="#ff4d4d" text-anchor="start" font-weight="bold" font-style="normal" >50</text>
<text x="1181" y="600.71" font-size="19.6" fill="#ff4d4d" text-anchor="start" font-weight="bold" font-style="normal" >60</text>
<text x="1181" y="569.08" font-size="19.6" fill="#ff4d4d" text-anchor="start" font-weight="bold" font-style="normal" >70</text>
<text x="1181" y="537.45" font-size="19.6" fill="#ff4d4d" text-anchor="start" font-weight="bold" font-style="normal" >80</text>
<text x="1181" y="505.83" font-size="19.6" fill="#ff4d4d" text-anchor="start" font-weight="bold" font-style="normal" >90</text>
<text x="1181" y="474.2" font-size="19.6" fill="#ff4d4d" text-anchor="start" font-weight="bold" font-style="normal" >100</text>
<text x="942.6" y="877.8" font-size="29.4" fill="#000" text-anchor="middle" font-weight="bold" font-style="normal" >Temperature (°C)</text>
<text x="678" y="642" font-size="29.6" fill="#1a84fb" text-anchor="middle" font-weight="bold" font-style="normal" transform="rotate(-90 678 642)" >Heat Flow (mW/mg)</text>
<text x="1241.8" y="751.35" font-size="30" fill="#ff4d4d" text-anchor="start" font-weight="bold" font-style="normal" transform="rotate(-90 1241.8 751.35)" >Viscosity (</text>
<text x="1241.8" y="602.6" font-size="24" fill="#ff4d4d" text-anchor="start" font-weight="bold" font-style="normal" transform="rotate(-90 1241.8 602.6)" >Pa</text>
<circle cx="1233.6" cy="566.7" r="4.7" fill="#ff4d4d"/>
<text x="1241.8" y="559.4" font-size="24" fill="#ff4d4d" text-anchor="start" font-weight="bold" font-style="normal" transform="rotate(-90 1241.8 559.4)" >S</text>
<text x="1241.8" y="543.4" font-size="30" fill="#ff4d4d" text-anchor="start" font-weight="bold" font-style="normal" transform="rotate(-90 1241.8 543.4)" >)</text>
<text x="755.2" y="513.6" font-size="39" fill="#000" text-anchor="start" font-weight="normal" font-style="normal" stroke="#000" stroke-width="0.8">(d)</text>
<path d="M741.5,575.8 C743.1,575.43 747.63,574.62 751.1,573.6 C754.57,572.58 758.58,571.18 762.3,569.7 C766.02,568.22 769.68,566.47 773.4,564.7 C777.12,562.93 780.88,561.15 784.6,559.1 C788.32,557.05 792.73,554.45 795.7,552.4 C798.67,550.35 800.17,548.85 802.4,546.8 C804.63,544.75 806.87,542.33 809.1,540.1 C811.33,537.87 813.75,535.53 815.8,533.4 C817.85,531.27 819.53,528.93 821.4,527.3 C823.27,525.67 825.52,524.07 827,523.6 C828.48,523.13 829.2,523.35 830.3,524.5 C831.4,525.65 832.35,527.08 833.6,530.5 C834.85,533.92 836.55,540.83 837.8,545 C839.05,549.17 839.8,551.85 841.1,555.5 C842.4,559.15 843.92,562.97 845.6,566.9 C847.28,570.83 849.15,575.02 851.2,579.1 C853.25,583.18 855.87,587.68 857.9,591.4 C859.93,595.12 861.57,597.73 863.4,601.4 C865.23,605.07 866.87,609.55 868.9,613.4 C870.93,617.25 873.37,620.42 875.6,624.5 C877.83,628.58 880.25,633.62 882.3,637.9 C884.35,642.18 886.05,645.73 887.9,650.2 C889.75,654.67 891.73,660.07 893.4,664.7 C895.07,669.33 896.32,672.12 897.9,678 C899.48,683.88 901.42,693.67 902.9,700 C904.38,706.33 905.05,710.43 906.8,716 C908.55,721.57 911.18,726.98 913.4,733.4 C915.62,739.82 918.08,748.9 920.1,754.5 C922.12,760.1 923.72,763.45 925.5,767 C927.28,770.55 929.55,774.17 930.8,775.8 C932.05,777.43 932.1,776.95 933,776.8 C933.9,776.65 934.78,777 936.2,774.9 C937.62,772.8 939.5,769.1 941.5,764.2 C943.5,759.3 945.97,752.18 948.2,745.5 C950.43,738.82 952.67,731.68 954.9,724.1 C957.13,716.52 959.75,706.85 961.6,700 C963.45,693.15 964.6,688.67 966,683 C967.4,677.33 968.57,671.1 970,666 C971.43,660.9 973.05,656.65 974.6,652.4 C976.15,648.15 977.47,644.4 979.3,640.5 C981.13,636.6 983.25,632.75 985.6,629 C987.95,625.25 990.8,621.13 993.4,618 C996,614.87 998.35,612.67 1001.2,610.2 C1004.05,607.73 1007.12,605.15 1010.5,603.2 C1013.88,601.25 1017.85,599.67 1021.5,598.5 C1025.15,597.33 1028.5,596.8 1032.4,596.2 C1036.3,595.6 1041.52,595.05 1044.9,594.9 C1048.28,594.75 1050.18,595.05 1052.7,595.3 C1055.22,595.55 1055.58,595.9 1060,596.4 C1064.42,596.9 1072.8,597.5 1079.2,598.3 C1085.6,599.1 1092.02,600.4 1098.4,601.2 C1104.78,602 1111.12,602.38 1117.5,603.1 C1123.88,603.82 1130.3,604.7 1136.7,605.5 C1143.1,606.3 1150.1,607.25 1155.9,607.9 C1161.7,608.55 1168.9,609.15 1171.5,609.4" fill="none" stroke="#1a84fb" stroke-width="2.7" stroke-linejoin="round" stroke-linecap="round" />
<path d="M741,649.7 C741.2,651.98 741.62,659.25 742.2,663.4 C742.78,667.55 743.75,670.88 744.5,674.6 C745.25,678.32 745.97,681.98 746.7,685.7 C747.43,689.42 748.17,693.37 748.9,696.9 C749.63,700.43 750.17,703.38 751.1,706.9 C752.03,710.42 753.57,714.33 754.5,718 C755.43,721.67 755.77,725.78 756.7,728.9 C757.63,732.02 758.98,734.28 760.1,736.7 C761.22,739.12 762.22,741.25 763.4,743.4 C764.58,745.55 766.57,748.57 767.2,749.6 L768.4,750.5 L769.6,748.6 L770.6,751.6 L771.5,752.1 L772.6,749.8 L773.6,752.6 L774.6,754.5 L775.7,760.5 L777.5,764.5 L779.2,766.8 L780.8,768.6 L781.8,766.8 L782.8,768.8 L784.2,770.2 L786.2,770.8 L787.8,770.9 L788.8,768.6 L789.8,772.2 L791.2,774.8 L792.6,776.8 C793,777.1 794.1,778.07 795,778.6 C795.9,779.13 796.83,779.53 798,780 C799.17,780.47 800.52,781.02 802,781.4 C803.48,781.78 804.23,781.95 806.9,782.3 C809.57,782.65 812.48,783.18 818,783.5 C823.52,783.82 829.67,784.1 840,784.2 C850.33,784.3 869.98,784.32 880,784.1 C890.02,783.88 894.97,783.43 900.1,782.9 C905.23,782.37 908.23,781.67 910.8,780.9 C913.37,780.13 914.22,779.45 915.5,778.3 C916.78,777.15 917.7,776.35 918.5,774 C919.3,771.65 919.8,768.73 920.3,764.2 C920.8,759.67 921.08,754.15 921.5,746.8 C921.92,739.45 922.47,727.9 922.8,720.1 C923.13,712.3 923.13,720.02 923.5,700 C923.87,679.98 924.67,623.33 925,600 C925.33,576.67 925.2,581.73 925.5,560 C925.8,538.27 926.58,484.67 926.8,469.6" fill="none" stroke="#ff4d4d" stroke-width="3" stroke-linejoin="round" stroke-linecap="round"/>
<line x1="927" y1="460.5" x2="930" y2="801" stroke="#555" stroke-width="1.3" stroke-dasharray="4,3"/>
<line x1="772.3" y1="784.4" x2="949.6" y2="784.4" stroke="#555" stroke-width="1.3" stroke-dasharray="4,3"/>
<circle cx="930" cy="785" r="2.6" fill="#ff4d4d"/>
<text x="810.5" y="497.2" font-size="19.6" fill="#9b00ff" font-weight="bold"><tspan font-style="italic">T</tspan><tspan font-style="italic" font-size="13" dy="5">i</tspan><tspan dy="-5"> =60 °C</tspan></text>
<line x1="842.8" y1="501.6" x2="834.92" y2="515.15" stroke="#9b00ff" stroke-width="0.9" />
<path d="M831.4,521.2 L832.83,512.78 L838.02,515.79 Z" fill="#9b00ff"/>
<text x="1006.5" y="551.8" font-size="19.6" fill="#9b00ff" font-weight="bold"><tspan font-style="italic">T</tspan><tspan font-style="italic" font-size="13" dy="5">e</tspan><tspan dy="-5"> =150 °C</tspan></text>
<line x1="1050.4" y1="556.2" x2="1050.4" y2="586.1" stroke="#9b00ff" stroke-width="0.9" />
<path d="M1050.4,593.1 L1047.4,585.1 L1053.4,585.1 Z" fill="#9b00ff"/>
<text x="981.5" y="786.8" font-size="19.6" fill="#9b00ff" font-weight="bold"><tspan font-style="italic">T</tspan><tspan font-style="italic" font-size="13" dy="5">p</tspan><tspan dy="-5"> =102 °C</tspan></text>
<line x1="976.3" y1="776.9" x2="944.5" y2="776.98" stroke="#9b00ff" stroke-width="0.9" />
<path d="M937.5,777 L945.49,773.98 L945.51,779.98 Z" fill="#9b00ff"/>
<text x="793.2" y="808.3" font-size="19.6" fill="#9b00ff" font-weight="bold"><tspan font-style="italic">T</tspan><tspan font-style="italic" font-size="13" dy="5">Gel</tspan><tspan dy="-5"> =102 °C</tspan></text>
<line x1="901.9" y1="797.8" x2="920.97" y2="790.42" stroke="#9b00ff" stroke-width="0.9" />
<path d="M927.5,787.9 L921.12,793.58 L918.96,787.99 Z" fill="#9b00ff"/>
<text x="817.3" y="669.5" font-size="19.6" fill="#1a84fb" text-anchor="middle" font-weight="bold" font-style="normal" transform="rotate(-90 817.3 669.5)" >Heat Release</text>
<line x1="823.5" y1="614.8" x2="823.5" y2="723.5" stroke="#1a84fb" stroke-width="1.1" />
<path d="M823.5,730.5 L820.7,722.5 L826.3,722.5 Z" fill="#1a84fb"/>
</svg>
</body></html>
